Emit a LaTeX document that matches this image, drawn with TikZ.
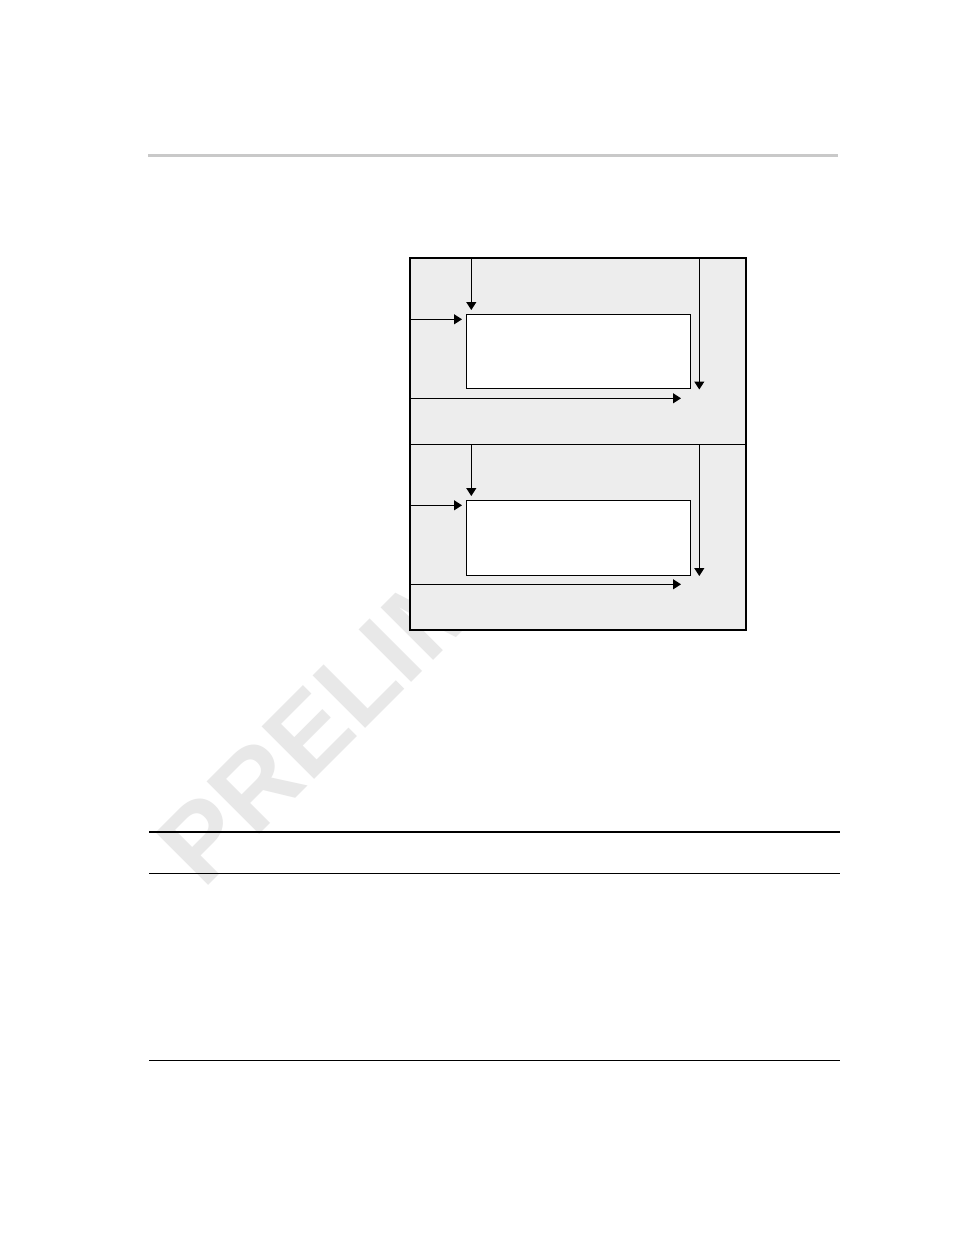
\documentclass[tikz,border=0pt]{standalone}
\usepackage{fontspec}
\setmainfont{Liberation Sans}
\usetikzlibrary{arrows.meta}
\begin{document}
\begin{tikzpicture}[x=0.75pt,y=-0.75pt,
  thinline/.style={line width=0.75pt},
  flow/.style={line width=0.75pt,-{Triangle[width=7.5pt,length=6pt]}},
  blockbox/.style={draw,line width=0.75pt,fill=white,anchor=north west,inner sep=0pt,outer sep=0pt},
  wmark/.style={rotate=45,text=black!9,anchor=base west,inner sep=0pt,font=\fontsize{81}{81}\selectfont\bfseries}]
\useasboundingbox[fill=white] (0,0) rectangle (954,1235);
% watermark
\node[wmark] (wm) at (203,891) {PRELIMINARY};
% header rule
\coordinate (hl) at (148,155.3);
\coordinate (hr) at (838,155.3);
\draw[line width=2.25pt,black!21] (hl) -- (hr);
% outer frame
\node[draw,line width=1.5pt,fill=black!7,anchor=north west,inner sep=0pt,outer sep=0pt,
      minimum width=252pt,minimum height=279.4pt] (outer) at (410,257.5) {};
\coordinate (divl) at (410,444.3);
\coordinate (divr) at (746,444.3);
\draw[thinline] (divl) -- (divr);
% inner blocks
\node[blockbox,minimum width=168pt,minimum height=55.3pt] (b1) at (466.7,314.3) {};
\node[blockbox,minimum width=168pt,minimum height=56.25pt] (b2) at (466.7,500.3) {};
% top section arrows
\coordinate (t1s) at (471.3,257.5);  \coordinate (t1e) at (471.3,310);
\coordinate (l1s) at (410,319.3);    \coordinate (l1e) at (462,319.3);
\coordinate (r1s) at (699.3,257.5);  \coordinate (r1e) at (699.3,389.5);
\coordinate (o1s) at (410,398.3);    \coordinate (o1e) at (681,398.3);
\draw[flow] (t1s) -- (t1e);
\draw[flow] (l1s) -- (l1e);
\draw[flow] (r1s) -- (r1e);
\draw[flow] (o1s) -- (o1e);
% bottom section arrows
\coordinate (t2s) at (471.3,444.3);  \coordinate (t2e) at (471.3,496);
\coordinate (l2s) at (410,505.3);    \coordinate (l2e) at (462,505.3);
\coordinate (r2s) at (699.3,444.3);  \coordinate (r2e) at (699.3,576);
\coordinate (o2s) at (410,584.3);    \coordinate (o2e) at (681,584.3);
\draw[flow] (t2s) -- (t2e);
\draw[flow] (l2s) -- (l2e);
\draw[flow] (r2s) -- (r2e);
\draw[flow] (o2s) -- (o2e);
% table rules
\coordinate (ra1) at (149,832);   \coordinate (rb1) at (840,832);
\coordinate (ra2) at (149,873.3); \coordinate (rb2) at (840,873.3);
\coordinate (ra3) at (149,1060);  \coordinate (rb3) at (840,1060);
\draw[line width=1.5pt] (ra1) -- (rb1);
\draw[thinline] (ra2) -- (rb2);
\draw[thinline] (ra3) -- (rb3);
\end{tikzpicture}
\end{document}
